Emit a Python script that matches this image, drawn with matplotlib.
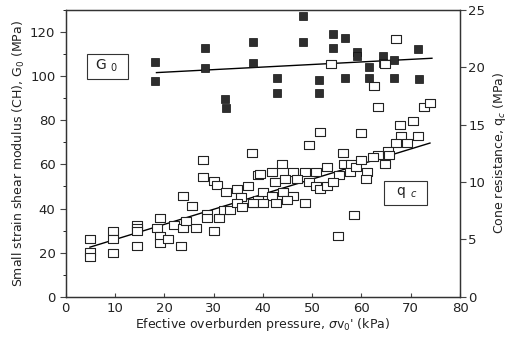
import numpy as np
import matplotlib
matplotlib.use('Agg')
import matplotlib.pyplot as plt
from matplotlib.ticker import MultipleLocator

plt.rcParams['font.family'] = 'DejaVu Sans'

# small strain shear modulus G0 (MPa) vs effective overburden pressure (kPa)
g0_x = [18.1, 18.1, 28.2, 28.2, 32.4, 32.6, 38.0, 38.0, 48.2, 48.2, 54.3, 56.6,
        54.3, 59.1, 59.1, 64.3, 64.4, 66.6, 61.6, 71.5, 42.8, 51.4, 56.6, 61.6,
        66.6, 71.7, 42.8, 51.4]
g0_y = [106.6, 97.8, 112.6, 103.6, 89.5, 85.5, 115.3, 105.8, 127.4, 115.4, 119.1, 117.2,
        112.6, 111.1, 109.1, 109.1, 106.1, 107.3, 104.3, 112.2, 99.0, 98.3, 99.0, 99.0,
        99.0, 98.7, 92.3, 92.3]
g0_fit_x = [18.4, 74.3]
g0_fit_y = [101.6, 108.1]

# cone resistance qc (MPa)
qc_x = [67.1, 53.9, 64.8, 62.5, 63.3, 72.6, 73.9, 70.4, 67.8, 51.6, 60.0, 68.0,
        71.5, 67.0, 69.2, 49.3,
        4.9, 4.9, 4.9, 9.6, 9.6, 9.6, 14.4, 14.4, 14.4, 14.4, 19.1, 18.6, 19.1, 19.1,
        20.8, 22.0, 23.3, 23.8, 23.8, 24.4, 25.6, 26.5, 27.9, 27.9, 28.6, 28.6, 30.1,
        30.1, 30.7, 31.1, 32.5, 32.1, 33.4, 34.7, 35.5, 34.7, 35.7, 36.9, 37.9, 37.7,
        39.0, 39.0,
        56.3, 43.9, 39.4, 41.8, 46.2, 48.5, 50.8, 53.1, 56.4, 57.8, 55.5, 57.7, 58.9,
        60.0, 61.1, 60.9, 63.3, 62.3, 65.3, 65.6, 64.8, 42.4, 44.5, 47.0, 49.4, 50.8,
        51.6, 53.1, 54.2, 40.1, 41.9, 44.0, 46.2, 44.8, 38.0, 40.1, 42.6, 48.5, 58.5,
        55.3]
qc_y = [22.5, 20.3, 20.3, 18.4, 16.5, 16.5, 16.9, 15.3, 15.0, 14.4, 14.3, 14.0,
        14.0, 13.4, 13.4, 13.2,
        5.0, 3.9, 3.5, 5.75, 5.0, 3.86, 6.3, 6.0, 5.7, 4.44, 6.9, 6.0, 5.3, 4.7,
        5.0, 6.3, 4.44, 8.8, 6.0, 6.6, 7.9, 6.0, 11.9, 10.4, 7.2, 6.9, 5.7,
        10.1, 9.76, 6.86, 9.1, 7.6, 7.6, 9.4, 8.7, 8.16, 7.8, 9.67, 8.16, 12.5,
        10.6, 8.45,
        12.5, 11.6, 10.7, 10.9, 10.9, 10.9, 10.9, 11.3, 11.6, 11.6, 10.6, 10.9, 11.3,
        11.9, 10.9, 10.3, 12.4, 12.2, 12.7, 12.4, 11.6, 10.0, 10.3, 10.3, 10.0, 9.7,
        9.4, 9.7, 10.0, 9.1, 8.8, 9.1, 8.8, 8.45, 8.2, 8.16, 8.16, 8.16, 7.1,
        5.3]
qc_fit_x = [4.9, 73.9]
qc_fit_y = [4.33, 13.4]

# slightly wide rectangle marker, like the original plotter symbols
rect = [(-1, -0.78), (1, -0.78), (1, 0.78), (-1, 0.78), (-1, -0.78)]

fig = plt.figure(figsize=(5.14, 3.42), dpi=100)
ax = fig.add_axes([0.128, 0.132, 0.767, 0.839])
ax2 = ax.twinx()

ax.plot(g0_x, g0_y, ls='none', marker='s', ms=5.3, mfc='#2e2e2e', mec='#111111', mew=0.5, zorder=3)
ax.plot(g0_fit_x, g0_fit_y, color='black', lw=1.0)

ax2.plot(qc_x, qc_y, ls='none', marker=rect, ms=6.5, mfc='white', mec='#222222', mew=0.8, zorder=3)
ax2.plot(qc_fit_x, qc_fit_y, color='black', lw=1.0)

ax.set_xlim(0, 80)
ax.set_ylim(0, 130)
ax2.set_ylim(0, 25)

ax.xaxis.set_major_locator(MultipleLocator(10))
ax.yaxis.set_minor_locator(MultipleLocator(10))
ax.set_yticks([0, 20, 40, 60, 80, 100, 120])
ax2.yaxis.set_major_locator(MultipleLocator(5))

ax.tick_params(axis='y', direction='out', length=4, labelsize=9.5, color='#444444', labelcolor='#222222')
ax.tick_params(axis='y', which='minor', direction='out', length=2.5)
ax.tick_params(axis='x', direction='in', length=3, labelsize=9.5, color='#444444', labelcolor='#222222')
ax2.tick_params(axis='y', direction='out', length=4, labelsize=9.5, pad=2, color='#444444', labelcolor='#222222')

ax.set_xlabel("Efective overburden pressure, $\\sigma$v$_0$' (kPa)", fontsize=9, labelpad=1, color='#222222')
ax.set_ylabel("Small strain shear modulus (CH), G$_0$ (MPa)", fontsize=9, labelpad=2, color='#222222')
ax2.set_ylabel("Cone resistance, q$_c$ (MPa)", fontsize=9, labelpad=4, color='#222222')

for a in (ax, ax2):
    for s in a.spines.values():
        s.set_linewidth(0.9)
        s.set_color('#333333')

ax.text(5.2, 104.5, " G $_0$  ", fontsize=10, va='center', ha='left', color='#222222',
        bbox=dict(boxstyle='square,pad=0.3', fc='white', ec='#333333', lw=0.8))
ax2.text(65.4, 9.05, "  q $_c$  ", fontsize=10, va='center', ha='left', color='#222222',
         bbox=dict(boxstyle='square,pad=0.3', fc='white', ec='#333333', lw=0.8))

fig.savefig('out.png', dpi=100)
